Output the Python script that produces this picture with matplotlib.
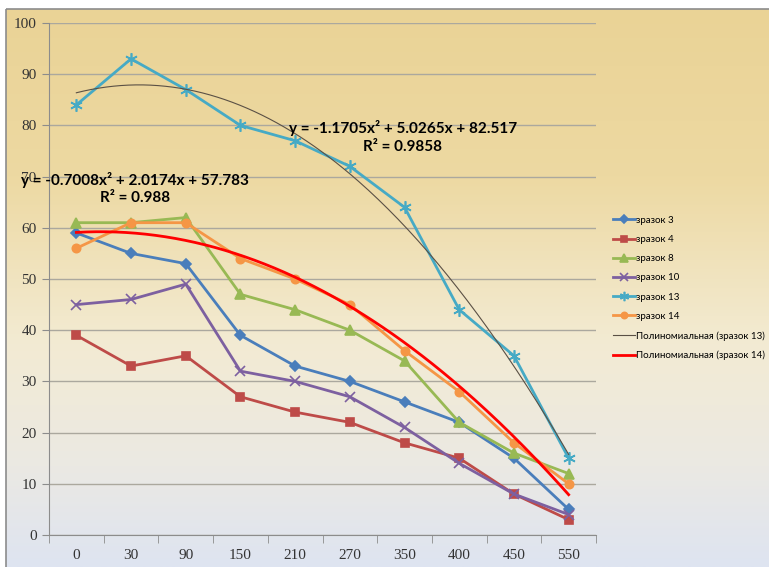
import numpy as np
import matplotlib.pyplot as plt
from matplotlib.colors import LinearSegmentedColormap
from matplotlib.patches import Rectangle

# Дані
temps = ['0', '30', '90', '150', '210', '270', '350', '400', '450', '550']
zrazok_3 = [59, 55, 53, 39, 33, 30, 26, 22, 15, 5]
zrazok_4 = [39, 33, 35, 27, 24, 22, 18, 15, 8, 3]
zrazok_8 = [61, 61, 62, 47, 44, 40, 34, 22, 16, 12]
zrazok_10 = [45, 46, 49, 32, 30, 27, 21, 14, 8, 4]
zrazok_13 = [84, 93, 87, 80, 77, 72, 64, 44, 35, 15]
zrazok_14 = [56, 61, 61, 54, 50, 45, 36, 28, 18, 10]

# коефіцієнти поліноміальних ліній тренду (x = 1..10)
coef_13 = [-1.1705, 5.0265, 82.517]
coef_14 = [-0.7008, 2.0174, 57.783]
r2_13 = 0.9858
r2_14 = 0.988

W, H = 769, 567
fig = plt.figure(figsize=(W / 100, H / 100), dpi=100)
fig.patch.set_facecolor('white')

# фон з градієнтом
bg = fig.add_axes([0, 0, 1, 1], zorder=-10)
bg.set_xlim(0, W)
bg.set_ylim(H, 0)
bg.axis('off')
cmap = LinearSegmentedColormap.from_list('bg', [
    (0.0, '#EAD396'), (0.3, '#EDD9A2'), (0.6, '#F3EBD3'),
    (0.82, '#EBE9E3'), (1.0, '#DEE4F1')])
grad = np.linspace(0, 1, 256).reshape(-1, 1)
bg.imshow(grad, cmap=cmap, aspect='auto', extent=[6, W, H, 9])
bg.add_patch(Rectangle((6, 9), W, H, fill=False, edgecolor='#8C8C8C', lw=1.2))

ax = fig.add_axes([49 / W, 1 - 535 / H, (596 - 49) / W, (535 - 23) / H])
ax.patch.set_alpha(0)

x = np.arange(len(temps))
series = [
    ('зразок 3', zrazok_3, '#4A7EBB', 'D', 5),
    ('зразок 4', zrazok_4, '#BE4B48', 's', 6),
    ('зразок 8', zrazok_8, '#98B954', '^', 7),
    ('зразок 10', zrazok_10, '#7D60A0', 'x', 7),
    ('зразок 13', zrazok_13, '#46AAC5', (6, 2, 0), 9),
    ('зразок 14', zrazok_14, '#F59646', 'o', 6),
]
for name, vals, col, mk, ms in series:
    ax.plot(x, vals, color=col, lw=2, marker=mk, ms=ms, mew=1.2,
            mec=col, mfc=col, label=name, zorder=3)

xs = np.linspace(1, 10, 200)
ax.plot(xs - 1, np.polyval(coef_13, xs), color='#5A5045', lw=0.8,
        label='Полиномиальная (зразок 13)', zorder=4)
ax.plot(xs - 1, np.polyval(coef_14, xs), color='#FF0000', lw=2,
        label='Полиномиальная (зразок 14)', zorder=4)

ax.set_xlim(-0.5, 9.5)
ax.set_ylim(0, 100)
ax.set_yticks(range(0, 101, 10))
ax.set_xticks(x)
ax.set_xticklabels(temps)
ax.set_xticks(np.arange(-0.5, 10, 1), minor=True)
ax.tick_params(axis='x', which='major', length=0, pad=10)
ax.tick_params(axis='x', which='minor', length=6, color='#8C8C8C', direction='out')
ax.tick_params(axis='y', length=5, color='#8C8C8C', direction='out', pad=4)
for lab in ax.get_xticklabels() + ax.get_yticklabels():
    lab.set_family('Liberation Serif')
    lab.set_fontsize(11)
    lab.set_color('#333333')
ax.grid(axis='y', color='#ABA89E', lw=1)
ax.set_axisbelow(True)
for s in ['top', 'right']:
    ax.spines[s].set_visible(False)
for s in ['left', 'bottom']:
    ax.spines[s].set_color('#8C8C8C')

eq_font = dict(family=['Lato', 'DejaVu Sans'], weight='bold', fontsize=11,
               color='black', ha='center', va='center', zorder=6)
ax.text(5.97, 79.5, 'y = %.4fx² + %.4fx + %.3f' % tuple(coef_13), **eq_font)
ax.text(5.97, 75.8, 'R² = %.4f' % r2_13, **eq_font)
ax.text(1.07, 69.3, 'y = %.4fx² + %.4fx + %.3f' % tuple(coef_14), **eq_font)
ax.text(1.07, 65.8, 'R² = %.3f' % r2_14, **eq_font)

leg = fig.legend(loc='upper left', bbox_to_anchor=(604 / W, 1 - 207 / H),
                 frameon=False, prop={'family': ['Lato', 'DejaVu Sans'], 'size': 7},
                 handlelength=2.3, handletextpad=0.1, labelspacing=1.05,
                 markerscale=0.75)

fig.savefig('out.png', dpi=100)
